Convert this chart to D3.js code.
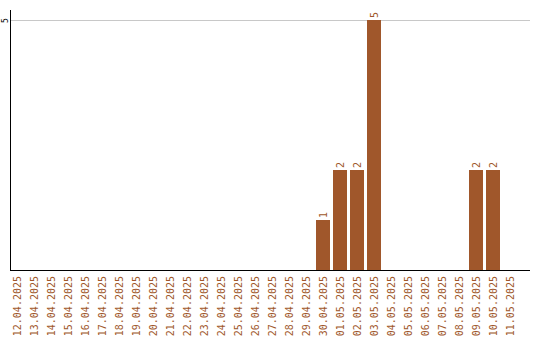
<!DOCTYPE html>
<html>
<head>
    <meta charset="utf-8">
    <title>Bars per day</title>
    <script src="https://cdn.jsdelivr.net/npm/d3@7"></script>
    <style>
        body { margin: 0; background: #fff; }
    </style>
</head>
<body>
<svg id="chart" width="540" height="340"></svg>
<script>
    // one bar per day
    const dates = ["12.04.2025","13.04.2025","14.04.2025","15.04.2025","16.04.2025","17.04.2025",
        "18.04.2025","19.04.2025","20.04.2025","21.04.2025","22.04.2025","23.04.2025","24.04.2025",
        "25.04.2025","26.04.2025","27.04.2025","28.04.2025","29.04.2025","30.04.2025","01.05.2025",
        "02.05.2025","03.05.2025","04.05.2025","05.05.2025","06.05.2025","07.05.2025","08.05.2025",
        "09.05.2025","10.05.2025","11.05.2025"]
    const counts = [0,0,0,0,0,0,0,0,0,0,0,0,0,0,0,0,0,0,1,2,2,5,0,0,0,0,0,2,2,0]
    const yTicks = [5]

    const brown = "#a0572b"
    const plotLeft = 10, plotRight = 530, plotTop = 20, plotBottom = 270

    const svg = d3.select("#chart")

    // step of 17px, bar 14px wide, gap 3px
    let x = d3.scaleBand()
        .domain(dates)
        .range([plotLeft, plotLeft + 17 * dates.length - 3])
        .paddingInner(3 / 17)
        .paddingOuter(0)

    let y = d3.scaleLinear()
        .domain([0, 5])
        .range([plotBottom, plotTop])

    // grid line
    svg.selectAll("line.grid")
        .data(yTicks)
        .enter()
        .append("line")
        .attr("class", "grid")
        .attr("x1", plotLeft).attr("x2", plotRight)
        .attr("y1", d => y(d) + 0.5).attr("y2", d => y(d) + 0.5)
        .attr("stroke", "#c8c8c8")

    // y tick labels (rotated)
    svg.selectAll("text.ytick")
        .data(yTicks)
        .enter()
        .append("text")
        .attr("class", "ytick")
        .attr("transform", d => `translate(8,${y(d) + 0.5}) rotate(-90)`)
        .attr("text-anchor", "middle")
        .attr("font-family", "DejaVu Sans Mono")
        .attr("font-size", 8)
        .attr("fill", "#000")
        .text(d => d)

    // bars
    svg.selectAll("rect.bar")
        .data(counts)
        .enter()
        .append("rect")
        .attr("class", "bar")
        .attr("x", (d, i) => x(dates[i]))
        .attr("width", x.bandwidth())
        .attr("y", d => y(d))
        .attr("height", d => plotBottom - y(d))
        .attr("fill", brown)

    // value labels above non-zero bars
    svg.selectAll("text.val")
        .data(counts.map((d, i) => ({d, i})).filter(o => o.d > 0))
        .enter()
        .append("text")
        .attr("class", "val")
        .attr("transform", o => `translate(${x(dates[o.i]) + x.bandwidth() / 2 + 3.5},${y(o.d) - 2}) rotate(-90)`)
        .attr("font-family", "DejaVu Sans Mono")
        .attr("font-size", 10)
        .attr("fill", brown)
        .text(o => o.d)

    // date labels
    svg.selectAll("text.date")
        .data(dates)
        .enter()
        .append("text")
        .attr("class", "date")
        .attr("transform", d => `translate(${x(d) + x.bandwidth() / 2 + 3.5},276) rotate(-90)`)
        .attr("text-anchor", "end")
        .attr("font-family", "DejaVu Sans Mono")
        .attr("font-size", 10)
        .attr("fill", brown)
        .text(d => d)

    // axes lines
    svg.append("line")
        .attr("x1", plotLeft + 0.5).attr("x2", plotLeft + 0.5)
        .attr("y1", 10).attr("y2", plotBottom + 1)
        .attr("stroke", "#000")
    svg.append("line")
        .attr("x1", plotLeft).attr("x2", plotRight)
        .attr("y1", plotBottom + 0.5).attr("y2", plotBottom + 0.5)
        .attr("stroke", "#000")
</script>
</body>
</html>
